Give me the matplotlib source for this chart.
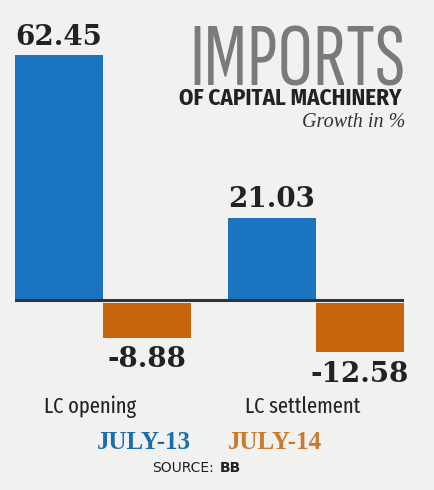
import matplotlib.pyplot as plt

# dados
categorias = ['LC opening', 'LC settlement']
julho_13 = [62.45, 21.03]
julho_14 = [-8.88, -12.58]
rotulos_13 = ['62.45', '21.03']
rotulos_14 = ['-8.88', '-12.58']

azul = '#1b74bf'
laranja = '#c7650f'
fundo = '#f1f1ef'

# fontes condensadas, com DejaVu como reserva
cond = ['Fira Sans Extra Condensed', 'DejaVu Sans']
cond_b = ['Fira Sans Condensed', 'DejaVu Sans']
titulo = ['Sofia Sans Extra Condensed', 'Fira Sans Extra Condensed', 'DejaVu Sans']

W, H = 434, 490
fig = plt.figure(figsize=(W / 100, H / 100), dpi=100, facecolor=fundo)

# eixo posicionado em pixels: x 15..404, zero em y=300
ymin, ymax = -20, 70
px_por_unidade = 3.92
zero_y = H - 300
ax_bottom = zero_y + ymin * px_por_unidade
ax_top = zero_y + ymax * px_por_unidade
ax = fig.add_axes([15 / W, ax_bottom / H, 389 / W, (ax_top - ax_bottom) / H])
ax.set_xlim(0, 4.42)
ax.set_ylim(ymin, ymax)
ax.axis('off')

grupos = [0, 2.42]
for g, v13, v14, r13, r14 in zip(grupos, julho_13, julho_14, rotulos_13, rotulos_14):
    ax.bar(g, v13, width=1, align='edge', color=azul)
    ax.bar(g + 1, v14, width=1, align='edge', color=laranja, bottom=-0.8)
    ax.annotate(r13, (g + 0.5, v13), xytext=(0, 3), textcoords='offset points',
                ha='center', va='bottom', fontsize=20, fontweight='bold',
                family='DejaVu Serif', color='#222222')
    ax.annotate(r14, (g + 1.5, v14 - 0.8), xytext=(0, -6), textcoords='offset points',
                ha='center', va='top', fontsize=20, fontweight='bold',
                family='DejaVu Serif', color='#222222')

ax.axhline(0, color='#333333', lw=2.2)

# rótulos das categorias
for g, nome in zip(grupos, categorias):
    fig.text((15 + (g + 0.85) * 88) / W, 1 - 413 / H, nome, ha='center', va='baseline',
             fontsize=16, family=cond, color='#222222')

# título
fig.text(405 / W, 1 - 85 / H, 'IMPORTS', ha='right', va='baseline', fontsize=64,
         family=titulo, fontweight='light', color='#7a7a7a')
fig.text(401 / W, 1 - 105 / H, 'OF CAPITAL MACHINERY', ha='right', va='baseline',
         fontsize=16.5, fontweight='bold', family=cond_b, color='#222222')
fig.text(405 / W, 1 - 127 / H, 'Growth in %', ha='right', va='baseline',
         fontsize=14.5, style='italic', family='Liberation Serif', color='#333333')

# legenda
fig.text(144 / W, 1 - 442 / H, 'JULY-13', ha='center', va='center', fontsize=18,
         fontweight='bold', family='Liberation Serif', color='#1a6fab')
fig.text(275 / W, 1 - 442 / H, 'JULY-14', ha='center', va='center', fontsize=18,
         fontweight='bold', family='Liberation Serif', color='#c97a2c')
fig.text(214 / W, 1 - 468 / H, 'SOURCE:', ha='right', va='center', fontsize=10,
         family='DejaVu Sans', color='#222222')
fig.text(220 / W, 1 - 468 / H, 'BB', ha='left', va='center', fontsize=10,
         fontweight='bold', family='DejaVu Sans', color='#222222')

fig.savefig('out.png', dpi=100, facecolor=fundo)
